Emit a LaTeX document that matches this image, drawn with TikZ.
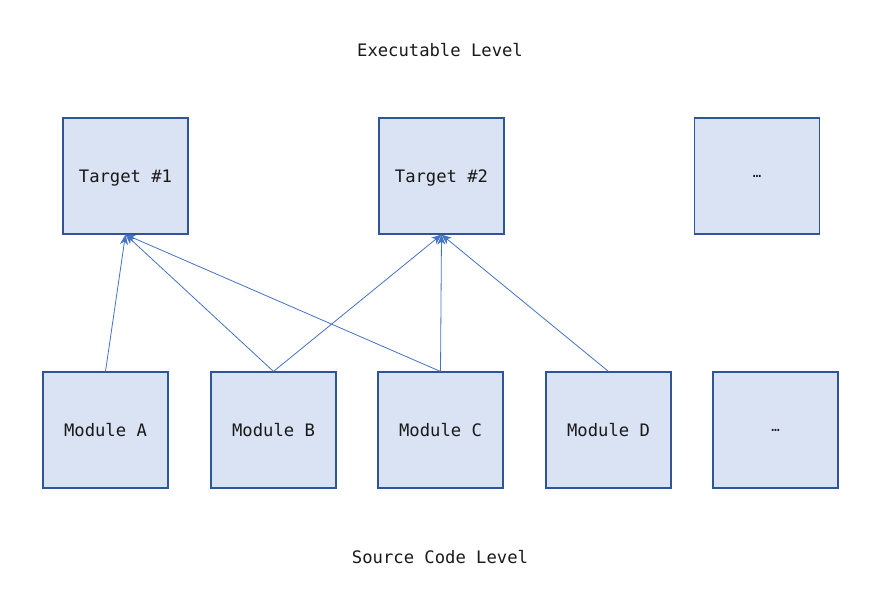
\documentclass[tikz,border=0pt]{standalone}
\usepackage{fontspec}
\setmainfont{DejaVu Sans Mono}
\usetikzlibrary{arrows.meta}
\definecolor{boxfill}{HTML}{DAE3F3}
\definecolor{boxline}{HTML}{2F5597}
\definecolor{arrowblue}{HTML}{4472C4}
\begin{document}
\begin{tikzpicture}[x=1pt,y=-1pt,
  blk/.style={draw=boxline,fill=boxfill,line width=1.1pt,minimum width=125pt,minimum height=116pt,inner sep=0pt,font=\fontsize{17.2}{20}\selectfont,text=black!90,text height=12.5pt,text depth=-2.5pt},
  dots/.style={blk,text height=,text depth=,font=\fontsize{14}{16}\selectfont},
  lbl/.style={font=\fontsize{17.2}{20}\selectfont,text=black!90,inner sep=0pt},
  link/.style={draw=arrowblue,line width=0.8pt,-{Stealth[length=10pt,width=8pt,inset=3pt]}}]
\useasboundingbox (0,0) rectangle (880,595);
\node[lbl] (exec) at (440,50) {Executable Level};
\node[lbl] (src) at (440,557) {Source Code Level};
\node[blk] (t1) at (125.5,176) {Target \#1};
\node[blk] (t2) at (441.5,176) {Target \#2};
\node[dots] (t3) at (757,176) {…};
\node[blk] (ma) at (105.5,430) {Module A};
\node[blk] (mb) at (273.5,430) {Module B};
\node[blk] (mc) at (440.5,430) {Module C};
\node[blk] (md) at (608.5,430) {Module D};
\node[dots] (me) at (775.5,430) {…};
\draw[link] (ma.north) -- (t1.south);
\draw[link] (mb.north) -- (t1.south);
\draw[link] (mc.north) -- (t1.south);
\draw[link] (mb.north) -- (t2.south);
\draw[link] (mc.north) -- (t2.south);
\draw[link] (md.north) -- (t2.south);
\end{tikzpicture}
\end{document}
